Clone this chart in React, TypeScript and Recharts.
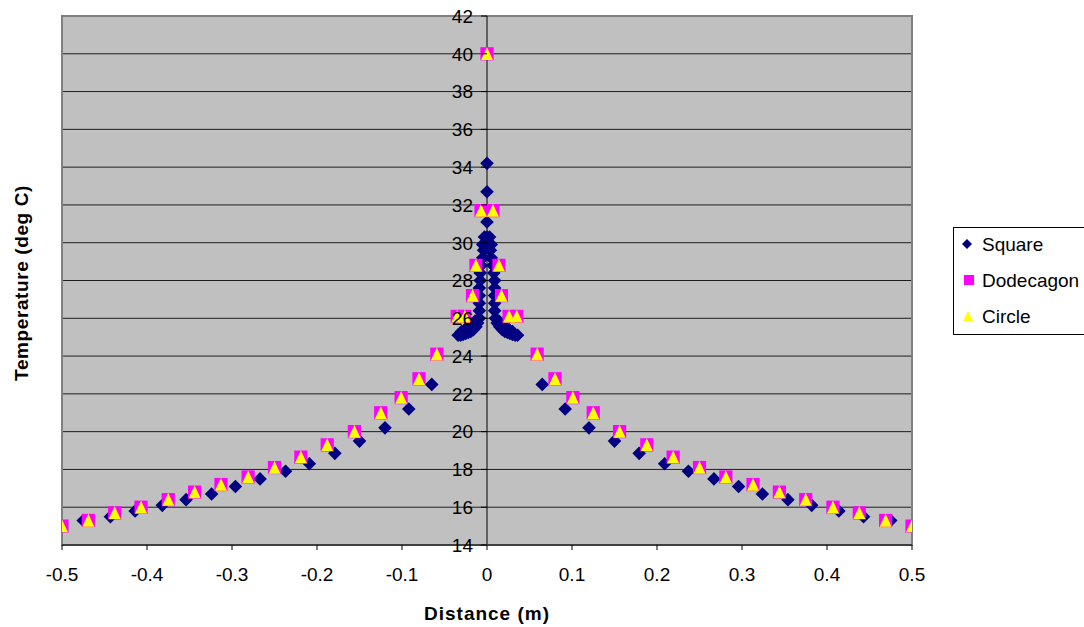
import {
  CartesianGrid,
  Label,
  Legend,
  ReferenceArea,
  ReferenceLine,
  Scatter,
  ScatterChart,
  XAxis,
  YAxis,
} from "recharts"

// Square profile (distance in m, temperature in deg C)
const squareX = [
  -0.475, -0.443, -0.414, -0.382, -0.354, -0.324, -0.296, -0.267, -0.237, -0.209,
  -0.179, -0.15, -0.12, -0.092, -0.065,
  -0.034, -0.031, -0.028, -0.025, -0.022, -0.019, -0.016, -0.013, -0.011, -0.009,
  -0.009, -0.009, -0.009, -0.009, -0.008, -0.008, -0.007, -0.005, -0.004, -0.002,
  -0.03, -0.026, -0.022, -0.018, -0.014, -0.005, -0.003,
  0, 0, 0, 0,
  0.003, 0.005, 0.014, 0.018, 0.022, 0.026, 0.03,
  0.002, 0.004, 0.005, 0.007, 0.008, 0.009, 0.009, 0.009, 0.009, 0.009, 0.01,
  0.012, 0.015, 0.018, 0.021, 0.024, 0.027, 0.03, 0.033, 0.036,
  0.065, 0.092, 0.12, 0.15, 0.179, 0.209, 0.237, 0.267, 0.296, 0.324, 0.354,
  0.382, 0.414, 0.443, 0.475,
]
const squareT = [
  15.3, 15.5, 15.8, 16.1, 16.4, 16.7, 17.1, 17.5, 17.9, 18.3,
  18.85, 19.5, 20.2, 21.2, 22.5,
  25.1, 25.1, 25.15, 25.2, 25.25, 25.3, 25.4, 25.55, 25.75, 26.0,
  26.4, 26.8, 27.2, 27.6, 28.0, 28.4, 28.8, 29.2, 29.6, 30.0,
  25.3, 25.4, 25.5, 25.65, 25.85, 29.9, 30.3,
  30.3, 31.1, 32.7, 34.2,
  30.3, 29.9, 25.85, 25.65, 25.5, 25.4, 25.3,
  30.0, 29.6, 29.2, 28.8, 28.4, 28.0, 27.6, 27.2, 26.8, 26.4, 26.0,
  25.75, 25.55, 25.4, 25.3, 25.25, 25.2, 25.15, 25.1, 25.1,
  22.5, 21.2, 20.2, 19.5, 18.85, 18.3, 17.9, 17.5, 17.1, 16.7, 16.4,
  16.1, 15.8, 15.5, 15.3,
]

// Dodecagon profile
const dodecagonX = [
  -0.5, -0.469, -0.438, -0.407, -0.375, -0.344, -0.313, -0.281, -0.25, -0.219,
  -0.188, -0.156, -0.125, -0.101, -0.08, -0.059, -0.035, -0.026, -0.017, -0.013,
  -0.007, 0, 0.007, 0.014, 0.017, 0.026, 0.035, 0.059, 0.08, 0.101, 0.125,
  0.156, 0.188, 0.219, 0.25, 0.281, 0.313, 0.344, 0.375, 0.407, 0.438, 0.469, 0.5,
]
const dodecagonT = [
  15.0, 15.3, 15.7, 16.0, 16.4, 16.8, 17.2, 17.6, 18.1, 18.65,
  19.3, 20.0, 21.0, 21.8, 22.8, 24.1, 26.1, 26.1, 27.2, 28.8,
  31.7, 40.0, 31.7, 28.8, 27.2, 26.1, 26.1, 24.1, 22.8, 21.8, 21.0,
  20.0, 19.3, 18.65, 18.1, 17.6, 17.2, 16.8, 16.4, 16.0, 15.7, 15.3, 15.0,
]

// Circle profile
const circleX = [
  -0.5, -0.469, -0.438, -0.407, -0.375, -0.344, -0.313, -0.281, -0.25, -0.219,
  -0.188, -0.156, -0.125, -0.101, -0.08, -0.059, -0.035, -0.026, -0.017, -0.013,
  -0.007, 0, 0.007, 0.014, 0.017, 0.026, 0.035, 0.059, 0.08, 0.101, 0.125,
  0.156, 0.188, 0.219, 0.25, 0.281, 0.313, 0.344, 0.375, 0.407, 0.438, 0.469, 0.5,
]
const circleT = [
  15.0, 15.3, 15.7, 16.0, 16.4, 16.8, 17.2, 17.6, 18.1, 18.65,
  19.3, 20.0, 21.0, 21.8, 22.8, 24.1, 26.1, 26.1, 27.2, 28.8,
  31.7, 40.0, 31.7, 28.8, 27.2, 26.1, 26.1, 24.1, 22.8, 21.8, 21.0,
  20.0, 19.3, 18.65, 18.1, 17.6, 17.2, 16.8, 16.4, 16.0, 15.7, 15.3, 15.0,
]

const xTicks = [-0.5, -0.4, -0.3, -0.2, -0.1, 0, 0.1, 0.2, 0.3, 0.4, 0.5]
const yTicks = [14, 16, 18, 20, 22, 24, 26, 28, 30, 32, 34, 36, 38, 40, 42]

const FONT = "'Liberation Sans', Arial, sans-serif"
const NAVY = "#000080"
const MAGENTA = "#FF00FF"
const YELLOW = "#FFFF00"

const W = 1084
const H = 627
const PLOT_LEFT = 62
const PLOT_RIGHT = 912
const AXIS_X = (PLOT_LEFT + PLOT_RIGHT) / 2
const Y_AXIS_W = 2

const toPoints = (xs: number[], ts: number[]) =>
  xs.map((x, i) => ({ x, t: ts[i] }))

const squareData = toPoints(squareX, squareT)
const dodecagonData = toPoints(dodecagonX, dodecagonT)
const circleData = toPoints(circleX, circleT)

const DiamondShape = (props: any) => {
  const { cx, cy } = props
  const r = 6.8
  return (
    <polygon
      points={`${cx},${cy - r} ${cx + r},${cy} ${cx},${cy + r} ${cx - r},${cy}`}
      fill={NAVY}
    />
  )
}

const SquareShape = (props: any) => {
  const { cx, cy } = props
  return <rect x={cx - 6.6} y={cy - 6.6} width={13.2} height={13.2} fill={MAGENTA} />
}

const TriangleShape = (props: any) => {
  const { cx, cy } = props
  return (
    <polygon
      points={`${cx},${cy - 6.6} ${cx + 6},${cy + 6.2} ${cx - 6},${cy + 6.2}`}
      fill={YELLOW}
    />
  )
}

// y axis crosses at x = 0, so the ticks are drawn there instead of the left edge
const CenterYTick = (props: any) => {
  const { y, payload } = props
  return (
    <g>
      <line x1={AXIS_X - 6} x2={AXIS_X} y1={y} y2={y} stroke="#000" />
      <text
        x={AXIS_X - 14}
        y={y}
        dy="0.36em"
        textAnchor="end"
        fontSize={19}
        fontFamily={FONT}
        fill="#000"
      >
        {payload.value}
      </text>
    </g>
  )
}

const LegendBox = () => {
  const rows = [
    { name: "Square", y: 17 },
    { name: "Dodecagon", y: 53 },
    { name: "Circle", y: 89 },
  ]
  return (
    <svg width={140} height={108} style={{ display: "block" }}>
      <rect x={0.5} y={0.5} width={150} height={107} fill="#fff" stroke="#000" />
      <polygon points="14,12 19,17 14,22 9,17" fill={NAVY} />
      <rect x={11} y={48} width={10} height={10} fill={MAGENTA} />
      <polygon points="15,84 20,94 10,94" fill={YELLOW} />
      {rows.map((r) => (
        <text
          key={r.name}
          x={29}
          y={r.y}
          dy="0.36em"
          fontSize={19}
          fontFamily={FONT}
          fill="#000"
        >
          {r.name}
        </text>
      ))}
    </svg>
  )
}

export default function App() {
  return (
    <div
      style={{
        position: "absolute",
        left: 0,
        top: 0,
        width: W,
        height: H,
        overflow: "hidden",
        background: "#fff",
      }}
    >
      <ScatterChart
        width={W}
        height={H}
        margin={{
          top: 16,
          right: W - PLOT_RIGHT,
          bottom: 0,
          left: PLOT_LEFT - Y_AXIS_W,
        }}
      >
        <CartesianGrid
          horizontal
          vertical={false}
          fill="#C0C0C0"
          fillOpacity={1}
          stroke="#000"
          strokeOpacity={0.85}
        />
        <XAxis
          type="number"
          dataKey="x"
          domain={[-0.5, 0.5]}
          ticks={xTicks}
          interval={0}
          allowDataOverflow
          height={82}
          axisLine={{ stroke: "#404040", strokeWidth: 2 }}
          tickLine={{ stroke: "#000" }}
          tickSize={5}
          tickMargin={18}
          tick={{ fill: "#000", fontSize: 19, fontFamily: FONT }}
          tickFormatter={(v: number) => String(v)}
        >
          <Label
            content={() => (
              <text
                x={AXIS_X}
                y={620}
                textAnchor="middle"
                fontSize={19}
                fontWeight="bold"
                letterSpacing={1}
                fontFamily={FONT}
                fill="#000"
              >
                Distance (m)
              </text>
            )}
          />
        </XAxis>
        <YAxis
          type="number"
          dataKey="t"
          domain={[14, 42]}
          ticks={yTicks}
          interval={0}
          allowDataOverflow
          width={Y_AXIS_W}
          axisLine={false}
          tickLine={false}
          tick={(props: any) => <CenterYTick {...props} />}
        >
          <Label
            content={() => (
              <text
                x={28}
                y={283}
                textAnchor="middle"
                transform="rotate(-90 28 283)"
                fontSize={19}
                fontWeight="bold"
                letterSpacing={0.6}
                fontFamily={FONT}
                fill="#000"
              >
                Temperature (deg C)
              </text>
            )}
          />
        </YAxis>
        <ReferenceArea
          x1={-0.5}
          x2={0.5}
          y1={14}
          y2={42}
          fill="none"
          stroke="#808080"
          strokeWidth={2}
        />
        <ReferenceLine x={0} stroke="#000" />
        <Scatter
          name="Square"
          data={squareData}
          shape={<DiamondShape />}
          isAnimationActive={false}
        />
        <Scatter
          name="Dodecagon"
          data={dodecagonData}
          shape={<SquareShape />}
          isAnimationActive={false}
        />
        <Scatter
          name="Circle"
          data={circleData}
          shape={<TriangleShape />}
          isAnimationActive={false}
        />
        <Legend
          layout="vertical"
          align="center"
          verticalAlign="middle"
          content={() => <LegendBox />}
          wrapperStyle={{ left: 953, top: 227, width: 140, height: 108 }}
        />
      </ScatterChart>
    </div>
  )
}
